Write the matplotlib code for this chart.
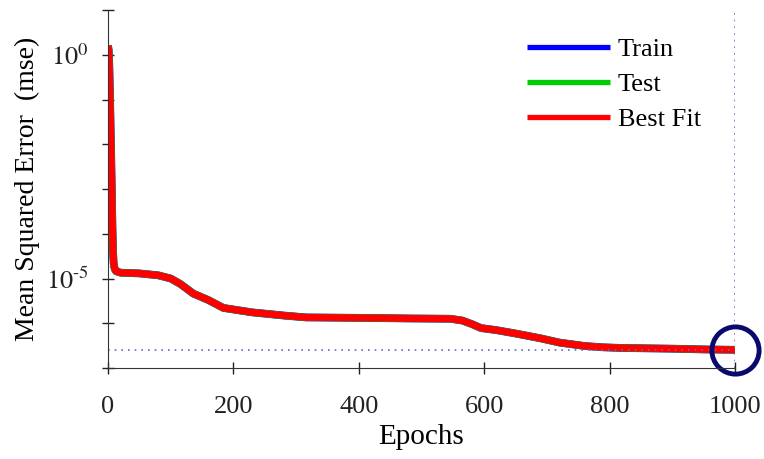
import numpy as np
import matplotlib
matplotlib.use("Agg")
import matplotlib.pyplot as plt

plt.rcParams['font.family'] = ['Liberation Serif', 'DejaVu Serif']
plt.rcParams['mathtext.fontset'] = 'stix'

# training curve (epoch, mse)
epochs = [0, 1, 2, 3, 4, 5, 6, 7, 8, 9, 10, 11, 13, 20, 50, 80, 100, 115, 125, 136,
          160, 184, 230, 282, 316, 400, 480, 546, 565, 581, 595, 620, 650, 690, 720,
          760, 789, 820, 859, 900, 950, 1000]
mse = [1.6, 1.3, 0.6, 0.15, 3e-2, 6e-3, 1e-3, 1.5e-4, 4e-5, 2.2e-5, 1.8e-5, 1.6e-5,
       1.45e-5, 1.35e-5, 1.3e-5, 1.18e-5, 1.0e-5, 7.6e-6, 6.0e-6, 4.6e-6,
       3.3e-6, 2.2e-6, 1.75e-6, 1.48e-6, 1.35e-6, 1.32e-6, 1.28e-6, 1.26e-6,
       1.15e-6, 9.5e-7, 7.8e-7, 7.0e-7, 5.9e-7, 4.6e-7, 3.7e-7,
       3.1e-7, 2.9e-7, 2.8e-7, 2.75e-7, 2.7e-7, 2.6e-7, 2.55e-7]
best_epoch = 1000
best_mse = 2.55e-7
y_ticks = [1e1, 1e0, 1e-1, 1e-2, 1e-3, 1e-4, 1e-5, 1e-6, 1e-7]
y_labels = ['', r'$10^{0}$', '', '', '', '', r'$10^{\text{-}5}$', '', '']
x_ticks = [0, 200, 400, 600, 800, 1000]

fig = plt.figure(figsize=(7.64, 4.59), dpi=100)
ax = fig.add_axes([0.1414, 0.1983, 0.962 - 0.1414, 0.978 - 0.1983])

ax.plot(epochs, mse, color='blue', linewidth=5.6, label='Train', solid_capstyle='butt')
ax.plot(epochs, mse, color='#00cc00', linewidth=5.3, label='Test', solid_capstyle='butt')
ax.plot(epochs, mse, color='red', linewidth=5.0, label='Best Fit', solid_capstyle='butt')

ax.axvline(best_epoch, color='#6666cc', linestyle=(0, (1, 3)), linewidth=1.2)
ax.plot([0, best_epoch], [best_mse, best_mse], color='#6666cc', linestyle=(0, (1, 3)), linewidth=1.2)
ax.plot([best_epoch], [best_mse], marker='o', markersize=34, markerfacecolor='none',
        markeredgecolor='#0a0a6e', markeredgewidth=3.5, clip_on=False)

ax.set_yscale('log')
ax.set_xlim(0, 1000)
ax.set_ylim(1e-7, 1e1)
ax.set_yticks(y_ticks)
ax.set_yticklabels(y_labels)
ax.minorticks_off()
ax.set_xticks(x_ticks)
ax.tick_params(direction='inout', length=8, width=1, labelsize=19, colors='#222222')
ax.tick_params(axis='x', pad=16)
ax.tick_params(axis='y', pad=10)

for s in ['top', 'right']:
    ax.spines[s].set_visible(False)
for s in ['left', 'bottom']:
    ax.spines[s].set_color('#333333')

ax.set_xlabel('Epochs', fontsize=21)
ax.set_ylabel('Mean Squared Error  (mse)', fontsize=20)
ax.xaxis.set_label_coords(0.5, -0.193, transform=ax.transAxes)
ax.yaxis.set_label_coords(-0.128, 0.5, transform=ax.transAxes)
ax.xaxis.label.set_va('center')
ax.yaxis.label.set_va('center')

leg = ax.legend(loc='upper left', bbox_to_anchor=(527 / 764, 1 - 38 / 459),
                bbox_transform=fig.transFigure, frameon=False, fontsize=19,
                handlelength=3.15, handletextpad=0.3, labelspacing=0.43,
                borderpad=0, borderaxespad=0)
for line in leg.get_lines():
    line.set_linewidth(3.8)

fig.savefig('out.png', dpi=100)
